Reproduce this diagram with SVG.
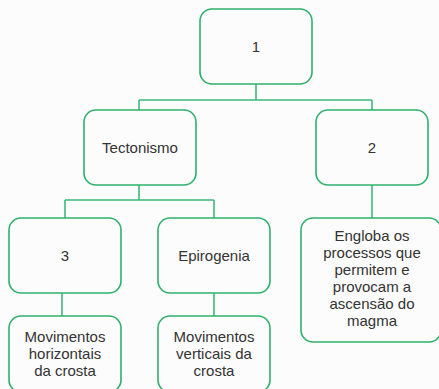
<svg xmlns="http://www.w3.org/2000/svg" width="439" height="389" viewBox="0 0 439 389">
<style>
.box{fill:none;stroke:#2eb06a;stroke-width:1.6}
.conn{fill:none;stroke:#3cb878;stroke-width:1.6}
text{font-family:"Liberation Sans",Arial,sans-serif;font-size:15px;fill:#333;text-anchor:middle}
</style>
<rect width="439" height="389" fill="#fcfcfc"/>
<g id="connectors">
<path class="conn" d="M256 84V100M139 100H372M139 100V110M372 100V110"/>
<path class="conn" d="M139 185V200M65 200H214M65 200V218M214 200V218"/>
<path class="conn" d="M372 185V218"/>
<path class="conn" d="M62 293V316M214 293V316"/>
</g>
<g id="n1"><rect class="box" x="200" y="9" width="112" height="75" rx="12"/><text x="256" y="52">1</text></g>
<g id="tectonismo"><rect class="box" x="84" y="110" width="112" height="75" rx="12"/><text x="140" y="153">Tectonismo</text></g>
<g id="n2"><rect class="box" x="316" y="110" width="112" height="75" rx="12"/><text x="372" y="153">2</text></g>
<g id="n3"><rect class="box" x="9" y="218" width="112" height="75" rx="12"/><text x="65" y="261">3</text></g>
<g id="epirogenia"><rect class="box" x="158" y="218" width="112" height="75" rx="12"/><text x="214" y="261">Epirogenia</text></g>
<g id="engloba"><rect class="box" x="301" y="218" width="140" height="124" rx="12"/>
<text x="372"><tspan x="372" y="241">Engloba os</tspan><tspan x="372" y="258">processos que</tspan><tspan x="372" y="275">permitem e</tspan><tspan x="372" y="292">provocam a</tspan><tspan x="372" y="309">ascensão do</tspan><tspan x="372" y="326">magma</tspan></text></g>
<g id="mov-h"><rect class="box" x="9" y="316" width="112" height="76" rx="12"/>
<text><tspan x="65" y="342">Movimentos</tspan><tspan x="65" y="359">horizontais</tspan><tspan x="65" y="376">da crosta</tspan></text></g>
<g id="mov-v"><rect class="box" x="158" y="316" width="112" height="76" rx="12"/>
<text><tspan x="214" y="342">Movimentos</tspan><tspan x="214" y="359">verticais da</tspan><tspan x="214" y="376">crosta</tspan></text></g>
</svg>
